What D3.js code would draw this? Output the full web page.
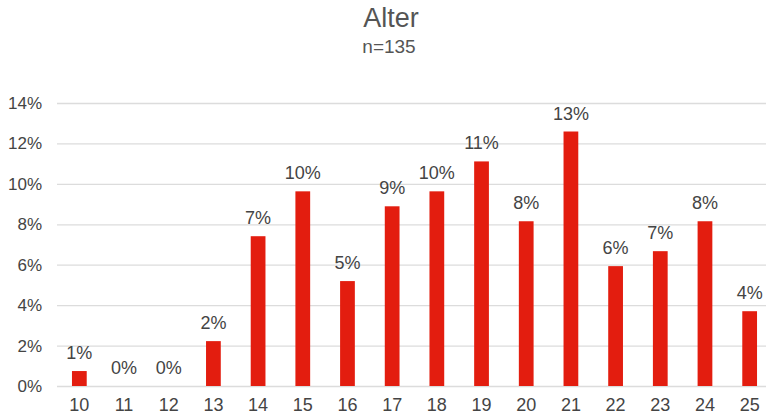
<!DOCTYPE html>
<html>
<head>
<meta charset="utf-8">
<script src="https://cdn.jsdelivr.net/npm/d3@7"></script>
<style>
	body { margin: 0; background: #fff; }
	svg { display: block; font-family: "Liberation Sans", Arial, sans-serif; }
</style>
</head>
<body>
<svg></svg>
<script>
const size = { w: 766, h: 415 };
const margin = { t: 103, r: -6, b: 29, l: 57 };

// age categories and share of respondents (%)
const ages = ["10", "11", "12", "13", "14", "15", "16", "17", "18", "19", "20", "21", "22", "23", "24", "25"];
const shares = [0.74, 0, 0, 2.22, 7.41, 9.63, 5.19, 8.89, 9.63, 11.11, 8.15, 12.59, 5.93, 6.67, 8.15, 3.7];
const labels = ["1%", "0%", "0%", "2%", "7%", "10%", "5%", "9%", "10%", "11%", "8%", "13%", "6%", "7%", "8%", "4%"];
const yTicks = [0, 2, 4, 6, 8, 10, 12, 14];

const data = ages.map((a, i) => ({ age: a, value: shares[i], label: labels[i] }));

const svg = d3.select("svg").attr("width", size.w).attr("height", size.h);

let scaleX = d3
	.scaleBand()
	.domain(ages)
	.range([margin.l, size.w - margin.r])
	.paddingInner(0.67)
	.paddingOuter(0.335);

let scaleY = d3
	.scaleLinear()
	.domain([0, 14])
	.range([size.h - margin.b, margin.t]);

// title
svg.append("text")
	.attr("x", 391)
	.attr("y", 27)
	.attr("text-anchor", "middle")
	.attr("fill", "#555")
	.attr("font-size", 27)
	.text("Alter");

svg.append("text")
	.attr("x", 389)
	.attr("y", 53)
	.attr("text-anchor", "middle")
	.attr("fill", "#555")
	.attr("font-size", 19)
	.text("n=135");

// gridlines
let yAxis = d3.axisLeft(scaleY)
	.tickValues(yTicks)
	.tickFormat((d) => d + "%")
	.tickSize(-(766 - margin.l))
	.tickPadding(15);

let yG = svg.append("g")
	.attr("transform", `translate(${margin.l},0)`)
	.call(yAxis);
yG.select(".domain").remove();
yG.selectAll(".tick line").attr("stroke", "#dcdcdc").attr("stroke-width", 1.3);
yG.selectAll(".tick text")
	.attr("fill", "#444")
	.attr("font-size", 17)
	.attr("font-family", "Liberation Sans, Arial, sans-serif");

// x labels
let xAxis = d3.axisBottom(scaleX).tickSize(0).tickPadding(12);
let xG = svg.append("g")
	.attr("transform", `translate(0,${size.h - margin.b})`)
	.call(xAxis);
xG.select(".domain").remove();
xG.selectAll(".tick text")
	.attr("fill", "#444")
	.attr("font-size", 18)
	.attr("font-family", "Liberation Sans, Arial, sans-serif");

// bars
svg.append("g")
	.selectAll("rect")
	.data(data)
	.join("rect")
	.attr("x", (d) => scaleX(d.age))
	.attr("y", (d) => scaleY(d.value))
	.attr("width", scaleX.bandwidth())
	.attr("height", (d) => scaleY(0) - scaleY(d.value))
	.attr("fill", "#e31d0f");

// value labels
svg.append("g")
	.selectAll("text")
	.data(data)
	.join("text")
	.attr("x", (d) => scaleX(d.age) + scaleX.bandwidth() / 2)
	.attr("y", (d) => scaleY(d.value) - 12)
	.attr("text-anchor", "middle")
	.attr("fill", "#444")
	.attr("font-size", 18)
	.text((d) => d.label);
</script>
</body>
</html>
